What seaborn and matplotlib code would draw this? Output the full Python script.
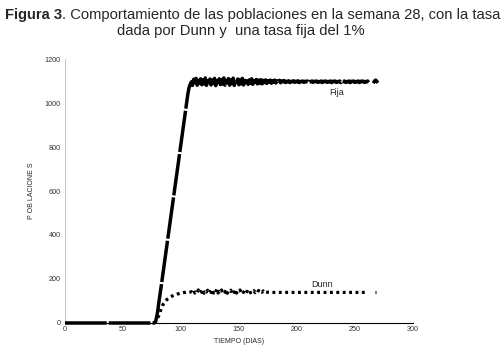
import numpy as np
import pandas as pd
import seaborn as sns
from matplotlib import pyplot as plt

# eje de tiempo (dias): inicio, luego diario desde el dia 77 hasta el 270
DIAS = [0] + list(range(77, 271))

# poblacion con tasa fija del 1%
FIJA = [
    0, 0,
    5, 25, 55, 95, 130, 168, 206, 244, 282, 320,
    358, 396, 434, 472, 510, 548, 586, 624, 662, 700,
    738, 776, 814, 852, 890, 928, 966, 1004, 1042, 1070, 1085,
    1096, 1080, 1108, 1084, 1112, 1081, 1102, 1090, 1110, 1083,
    1106, 1087, 1114, 1080, 1100, 1094, 1109, 1082, 1104, 1089,
    1112, 1079, 1099, 1095, 1110, 1084, 1106, 1086, 1114, 1081,
    1102, 1092, 1111, 1081, 1105, 1088, 1113, 1080, 1100, 1095,
    1109, 1083, 1106, 1087, 1112, 1082, 1101, 1093, 1108, 1085,
    1105, 1089, 1110, 1085, 1100, 1096, 1107, 1087, 1104, 1090,
    1106, 1087, 1103, 1093, 1105, 1089, 1101, 1095, 1104, 1090,
    1102, 1094, 1104, 1091, 1100, 1096, 1103, 1092, 1100, 1097,
    1102, 1093, 1099, 1096, 1101, 1093, 1098, 1097, 1101, 1094,
    1099, 1096, 1101, 1093, 1098, 1097, 1100, 1094, 1099, 1096,
    1100, 1093, 1098, 1096, 1100, 1094, 1099, 1097, 1100, 1094,
    1098, 1096, 1100, 1093, 1099, 1097, 1100, 1094, 1098, 1096,
    1100, 1093, 1099, 1097, 1100, 1094, 1098, 1096, 1100, 1093,
    1099, 1097, 1100, 1094, 1098, 1096, 1100, 1093, 1099, 1097,
    1100, 1094, 1098, 1096, 1100, 1093, 1099, 1097, 1100, 1094,
    1098, 1096, 1100, 1094,
    np.nan, np.nan, np.nan,
    1090, 1100, 1104, 1098, 1092,
]

# poblacion con la tasa dada por Dunn (el tramo en cero queda bajo la linea fija)
DUNN = [
    np.nan, 0,
    5, 12, 22, 35, 50, 65, 78, 88, 96, 102,
    107, 111, 115, 118, 121, 124, 126, 128, 130, 132,
    133, 135, 136, 137, 138, 139, 139, 140, 140, 141, 141,
    142, 138, 148, 136, 144, 139, 150, 137, 143, 140,
    152, 135, 145, 141, 149, 137, 143, 139, 151, 136,
    146, 140, 153, 136, 144, 139, 150, 137, 145, 140,
    151, 135, 144, 141, 149, 137, 146, 139, 152, 136,
    143, 140, 150, 137, 145, 139, 148, 138, 144, 140,
    149, 137, 143, 140, 147, 138, 144, 139, 148, 138,
    142, 140, 146, 138, 141, 140, 140, 140, 139, 139,
    139, 139, 139, 139, 139, 139, 139, 139, 139, 139,
    139, 139, 139, 139, 139, 139, 139, 139, 139, 139,
    139, 139, 139, 139, 139, 139, 139, 139, 139, 139,
    139, 139, 139, 139, 139, 139, 139, 139, 139, 139,
    139, 139, 139, 139, 139, 139, 139, 139, 139, 139,
    139, 139, 139, 139, 139, 139, 139, 139, 139, 139,
    139, 139, 139, 139, 139, 139, 139, 139, 139, 139,
    139, 139, 139, 139, 139, 139, 139, 139, 139, 139,
    139, 139, np.nan, np.nan,
    np.nan, np.nan, np.nan,
    np.nan, 139, 139, np.nan, np.nan,
]

X_TICKS = [0, 50, 100, 150, 200, 250, 300]
Y_TICKS = [0, 200, 400, 600, 800, 1000, 1200]


def tramos(valores):
    """Separa la serie en tramos continuos (un NaN corta la linea)."""
    df = pd.DataFrame({"dia": DIAS, "valor": valores})
    df["tramo"] = df["valor"].isna().cumsum()
    return df.dropna()


sns.set_style("white")
plt.rcParams["font.family"] = ["Liberation Sans", "DejaVu Sans"]

fig = plt.figure(figsize=(5.04, 3.54), dpi=100)
ax = fig.add_axes([0.129, 0.0876, 0.690, 0.7457])

sns.lineplot(data=tramos(DUNN), x="dia", y="valor", units="tramo", estimator=None,
             sort=False, color="black", linewidth=2.3, ax=ax, zorder=2, clip_on=False,
             linestyle=(0, (0.9, 1.1)), dash_capstyle="butt")
sns.lineplot(data=tramos(FIJA), x="dia", y="valor", units="tramo", estimator=None,
             sort=False, color="black", linewidth=2.5, ax=ax, zorder=3, clip_on=False,
             linestyle=(0, (12, 0.6)))

ax.text(234, 1050, "Fija", fontsize=6.5, ha="center", va="center")
ax.text(222, 173, "Dunn", fontsize=6.5, ha="center", va="center")

ax.set_xlim(0, 300)
ax.set_ylim(0, 1200)
ax.set_xticks(X_TICKS)
ax.set_yticks(Y_TICKS)
ax.tick_params(axis="both", labelsize=5.2, colors="#333333", length=2.5, width=0.6, pad=2)
ax.tick_params(axis="x", direction="in")
ax.tick_params(axis="y", direction="inout")
ax.set_xlabel("TIEMPO (DIAS)", fontsize=5, labelpad=4)
ax.set_ylabel("P OB LACIONE S", fontsize=5, labelpad=7)

for lado in ["top", "right"]:
    ax.spines[lado].set_visible(False)
ax.spines["bottom"].set_color("black")
ax.spines["bottom"].set_linewidth(0.8)
ax.spines["left"].set_color("#bbbbbb")
ax.spines["left"].set_linewidth(0.6)

titulo = fig.text(0.010, 0.958, "Figura 3", fontsize=10.6, fontweight="bold", va="center")
ax.annotate(". Comportamiento de las poblaciones en la semana 28, con la tasa",
            xy=(1, 0.5), xycoords=titulo, va="center", fontsize=10.6, annotation_clip=False)
fig.text(0.478, 0.913, "dada por Dunn y  una tasa fija del 1%", fontsize=10.6,
         ha="center", va="center")

fig.savefig("out.png", dpi=100)
